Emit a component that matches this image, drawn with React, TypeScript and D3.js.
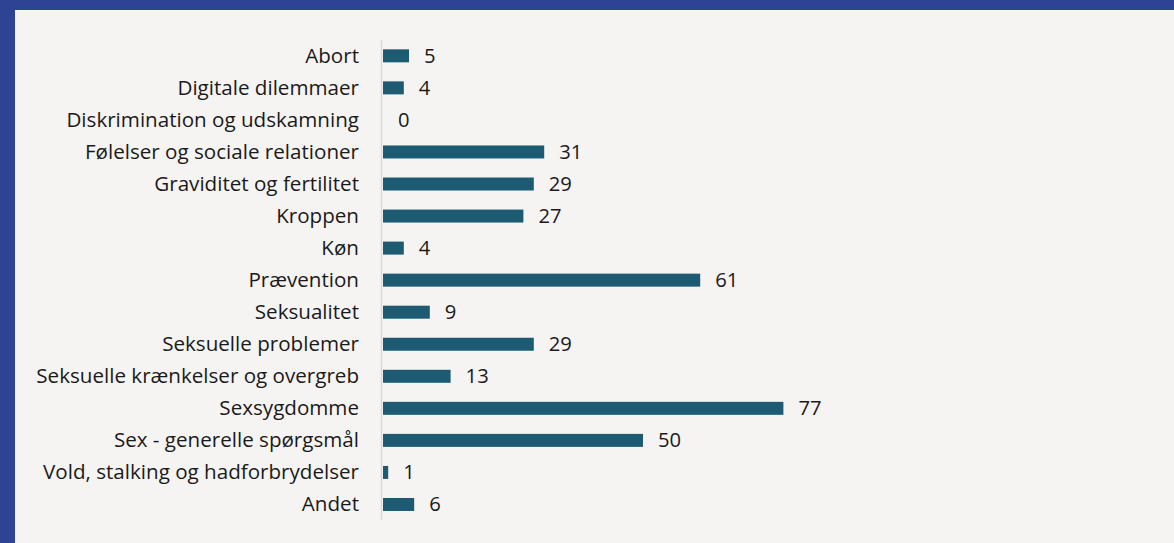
import React from "react";
import * as d3 from "d3";

const categories = [
  "Abort",
  "Digitale dilemmaer",
  "Diskrimination og udskamning",
  "Følelser og sociale relationer",
  "Graviditet og fertilitet",
  "Kroppen",
  "Køn",
  "Prævention",
  "Seksualitet",
  "Seksuelle problemer",
  "Seksuelle krænkelser og overgreb",
  "Sexsygdomme",
  "Sex - generelle spørgsmål",
  "Vold, stalking og hadforbrydelser",
  "Andet",
];
const values = [5, 4, 0, 31, 29, 27, 4, 61, 9, 29, 13, 77, 50, 1, 6];

const W = 1174;
const H = 543;
const FONT = "'Open Sans', sans-serif";

export default function App() {
  const x = d3.scaleLinear().domain([0, 80]).range([383, 799]);
  const y = d3
    .scaleBand<string>()
    .domain(categories)
    .range([39.8, 520.5])
    .paddingInner(0.59)
    .paddingOuter(0.295);
  const bh = 13;
  return (
    <div style={{ position: "fixed", left: 0, top: 0, width: W, height: H }}>
      <svg width={W} height={H} style={{ display: "block" }}>
        <rect x={0} y={0} width={W} height={H} fill="#f5f4f2" />
        <rect x={0} y={0} width={W} height={10} fill="#2f4394" />
        <rect x={0} y={0} width={15} height={H} fill="#2f4394" />
        <line x1={381.5} x2={381.5} y1={40} y2={520} stroke="#d9d9d9" strokeWidth={1.5} />
        {categories.map((c, i) => {
          const cy = (y(c) as number) + y.bandwidth() / 2;
          const v = values[i];
          return (
            <g key={c}>
              <text
                x={359}
                y={cy}
                dy="0.34em"
                textAnchor="end"
                fontFamily={FONT}
                fontSize={20.6}
                fill="#1a1a1a"
              >
                {c}
              </text>
              <rect x={x(0)} y={cy - bh / 2} width={x(v) - x(0)} height={bh} fill="#1d5b72" />
              <text
                x={x(v) + 15}
                y={cy}
                dy="0.34em"
                fontFamily={FONT}
                fontSize={20.2}
                fill="#1a1a1a"
              >
                {v}
              </text>
            </g>
          );
        })}
      </svg>
    </div>
  );
}
